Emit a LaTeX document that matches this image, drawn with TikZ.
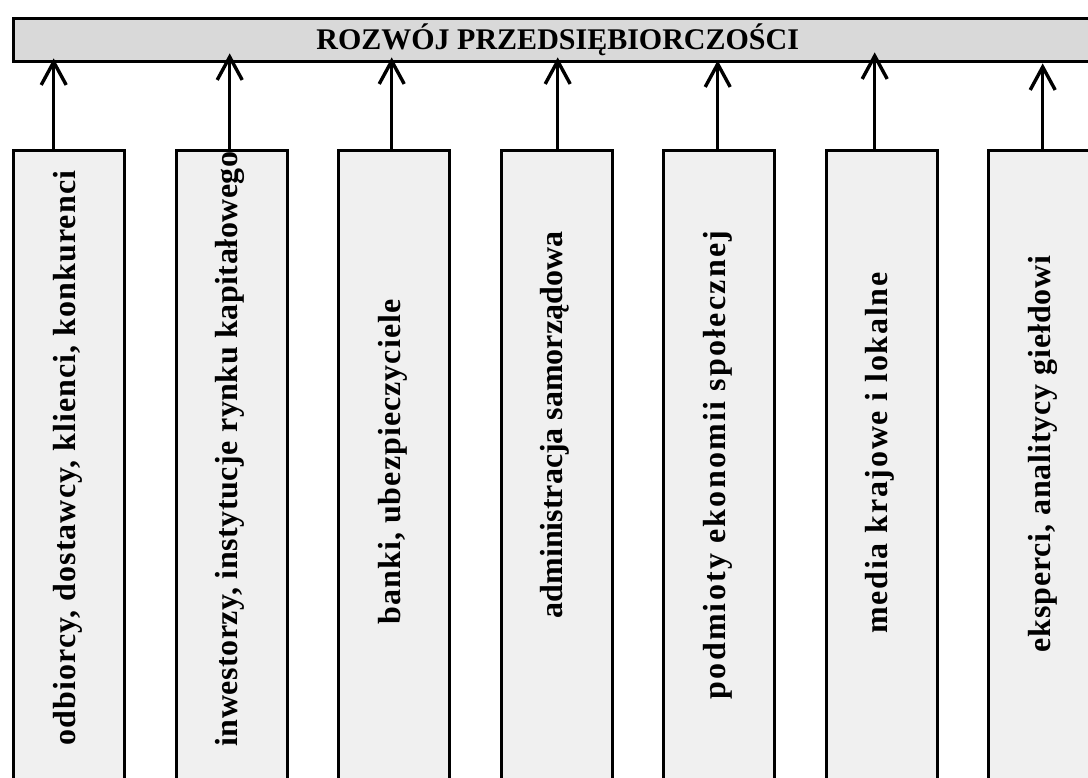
\documentclass[tikz,border=0pt]{standalone}
\usepackage{fontspec}
\setmainfont{Liberation Serif}
\usetikzlibrary{arrows.meta}
\begin{document}
\begin{tikzpicture}[x=1pt,y=-1pt,
  line width=3.4pt,
  titlebar/.style={draw=black, fill=black!15, rectangle, anchor=north west,
    minimum width=1088pt, minimum height=43pt, inner sep=0pt,
    font=\bfseries\fontsize{30}{32}\selectfont},
  actor/.style={draw=black, fill=black!6, rectangle, anchor=north west,
    minimum width=111pt, minimum height=660pt, inner sep=0pt},
  actorlabel/.style={rotate=90, inner sep=0pt,
    font=\bfseries\fontsize{32}{34}\selectfont},
  arr/.style={-{Straight Barb[length=23pt,width=25pt]}}]
\useasboundingbox (0,0) rectangle (1088,778);
\clip (0,0) rectangle (1088,778);

% header bar
\node[titlebar] (bar) at (12,17) {ROZWÓJ PRZEDSIĘBIORCZOŚCI};

% stakeholder columns
\node[actor] (b1) at (12,149) {};
\node[actor] (b2) at (174.5,149) {};
\node[actor] (b3) at (337,149) {};
\node[actor] (b4) at (499.5,149) {};
\node[actor] (b5) at (662,149) {};
\node[actor] (b6) at (824.5,149) {};
\node[actor] (b7) at (987,149) {};

\node[actorlabel] (t1) at (67.5,458) {\addfontfeatures{LetterSpace=3.3}odbiorcy, dostawcy, klienci, konkurenci};
\node[actorlabel] (t2) at (230,449) {\addfontfeatures{LetterSpace=1.6}inwestorzy, instytucje rynku kapitałowego};
\node[actorlabel] (t3) at (392.5,462) {\addfontfeatures{LetterSpace=3.3}banki, ubezpieczyciele};
\node[actorlabel] (t4) at (555,425) {administracja samorządowa};
\node[actorlabel] (t5) at (717.5,465) {\addfontfeatures{LetterSpace=7}podmioty ekonomii społecznej};
\node[actorlabel] (t6) at (880,453) {\addfontfeatures{LetterSpace=5.5}media krajowe i lokalne};
\node[actorlabel] (t7) at (1042.5,454) {\addfontfeatures{LetterSpace=2.7}eksperci, analitycy giełdowi};

% arrows into the header bar
\draw[arr] ([xshift=-15.5pt]b1.north) -- ([xshift=-15.5pt,yshift=5pt]b1.north |- bar.south);
\draw[arr] ([xshift=-2pt]b2.north) -- ([xshift=-2pt,yshift=10pt]b2.north |- bar.south);
\draw[arr] ([xshift=-2.5pt]b3.north) -- ([xshift=-2.5pt,yshift=6pt]b3.north |- bar.south);
\draw[arr] ([xshift=1pt]b4.north) -- ([xshift=1pt,yshift=6pt]b4.north |- bar.south);
\draw[arr] ([xshift=-1.5pt]b5.north) -- ([xshift=-1.5pt,yshift=3pt]b5.north |- bar.south);
\draw[arr] ([xshift=-7pt]b6.north) -- ([xshift=-7pt,yshift=11pt]b6.north |- bar.south);
\draw[arr] ([xshift=-1.5pt]b7.north) -- ([xshift=-1.5pt]b7.north |- bar.south);
\end{tikzpicture}
\end{document}
